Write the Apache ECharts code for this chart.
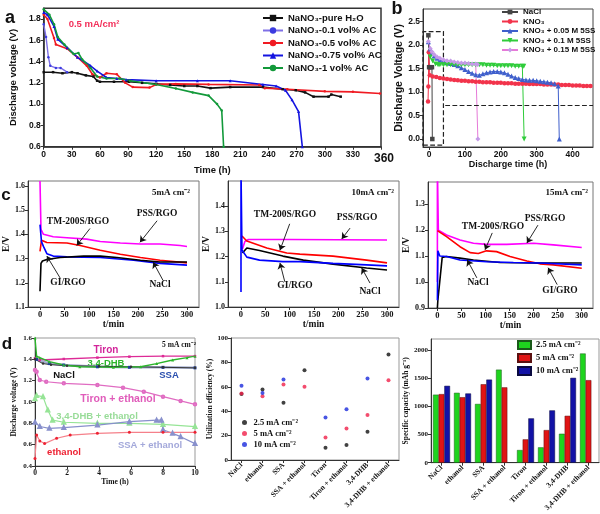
<!DOCTYPE html>
<html>
<head>
<meta charset="utf-8">
<script src="https://cdn.jsdelivr.net/npm/echarts@6/dist/echarts.min.js"></script>
<style>
html, body { margin: 0; padding: 0; background: #fff; }
#main { width: 600px; height: 514px; }
</style>
</head>
<body>
<div id="main"></div>
<script>
// ---- panel a : NaNO3 discharge (t in h, V) ----
var aNames = ['NaNO₃-pure H₂O', 'NaNO₃-0.1 vol% AC', 'NaNO₃-0.5 vol% AC', 'NaNO₃-0.75 vol% AC', 'NaNO₃-1 vol% AC'];
var aPureH2O = [[0,1.30],[10,1.30],[20,1.29],[30,1.30],[36,1.29],[45,1.27],[53,1.26],[57,1.22],[60,1.21],[75,1.21],[91,1.21],[105,1.20],[120,1.19],[135,1.18],[150,1.17],[164,1.17],[178,1.15],[199,1.16],[234,1.16],[255,1.14],[269,1.13],[279,1.11],[288,1.07],[304,1.07],[307,1.09],[317,1.07]];
var aAC01 = [[0,1.75],[2.5,1.63],[5,1.44],[7,1.36],[13,1.34],[18,1.34],[25,1.30]];
var aAC05 = [[0,1.84],[4,1.80],[11,1.62],[13,1.56],[25,1.52],[36,1.44],[46,1.36],[52,1.28],[60,1.25],[67,1.29],[78,1.28],[87,1.20],[95,1.16],[113,1.155],[120,1.185],[141,1.19],[176,1.185],[230,1.18],[236,1.15],[260,1.14],[300,1.12],[330,1.115],[359,1.10]];
var aAC075 = [[0,1.86],[4,1.84],[11,1.73],[15,1.61],[25,1.53],[36,1.44],[50,1.36],[57,1.31],[67,1.25],[78,1.24],[88,1.23],[120,1.22],[164,1.22],[199,1.22],[234,1.185],[248,1.17],[258,1.13],[265,1.04],[272,0.93],[276,0.6]];
var aAC1 = [[0,1.89],[6,1.84],[11,1.75],[15,1.63],[22,1.56],[32,1.47],[37,1.48],[41,1.42],[50,1.34],[57,1.26],[67,1.24],[81,1.24],[92,1.22],[120,1.185],[141,1.146],[159,1.11],[176,1.08],[185,1.0],[190,0.94],[192,0.6]];
var aTicksX = [0,30,60,90,120,150,180,210,240,270,300,330,360];
var aTicksY = [0.6,0.8,1.0,1.2,1.4,1.6,1.8];

// ---- panel b : KNO3 + 5SS ----
var bNames = ['NaCl', 'KNO₃', 'KNO₃ + 0.05 M 5SS', 'KNO₃ + 0.1 M 5SS', 'KNO₃ + 0.15 M 5SS'];
var bNaCl = [[-2,2.21],[0,1.53],[4,1.53],[8,1.53],[9,0]];
var bKNO3 = [[-3,0.8],[-2,1.12],[-1,1.85],[2,1.36],[10,1.33],[20,1.32],[30,1.30],[40,1.29],[50,1.28],[60,1.27],[70,1.26],[80,1.25],[90,1.24],[100,1.24],[110,1.23],[120,1.23],[130,1.22],[140,1.22],[150,1.21],[160,1.21],[170,1.21],[180,1.20],[190,1.20],[200,1.20],[210,1.19],[220,1.19],[230,1.19],[240,1.18],[250,1.18],[260,1.18],[270,1.18],[280,1.17],[290,1.17],[300,1.17],[310,1.17],[320,1.16],[330,1.16],[340,1.16],[350,1.16],[360,1.16],[370,1.15],[380,1.15],[390,1.15],[400,1.14],[410,1.14],[420,1.14],[430,1.13],[440,1.13],[450,1.13]];
var bSS005 = [[-2,2.07],[3,1.92],[8,1.83],[14,1.77],[22,1.72],[30,1.68],[40,1.65],[50,1.63],[60,1.61],[70,1.59],[80,1.56],[90,1.52],[100,1.48],[110,1.44],[120,1.40],[130,1.37],[140,1.36],[150,1.39],[160,1.41],[170,1.43],[180,1.44],[190,1.44],[200,1.43],[210,1.41],[220,1.38],[230,1.34],[240,1.31],[250,1.29],[260,1.27],[270,1.26],[280,1.25],[290,1.25],[300,1.24],[310,1.23],[320,1.22],[330,1.21],[340,1.20],[350,1.18],[360,1.13],[363,0]];
var bSS01 = [[3,1.75],[10,1.66],[18,1.60],[25,1.58],[30,1.58],[40,1.58],[50,1.58],[60,1.58],[70,1.58],[80,1.58],[90,1.58],[100,1.58],[110,1.58],[120,1.58],[130,1.58],[140,1.58],[150,1.58],[160,1.57],[170,1.57],[180,1.57],[190,1.56],[200,1.56],[210,1.56],[220,1.56],[230,1.56],[240,1.55],[250,1.55],[260,1.55],[264,1.55],[265,0]];
var bSS015 = [[-2,2.08],[3,1.93],[8,1.86],[14,1.80],[22,1.75],[30,1.72],[40,1.69],[50,1.67],[60,1.66],[70,1.64],[80,1.63],[90,1.62],[100,1.62],[110,1.61],[120,1.60],[130,1.60],[135,1.59],[136,0]];
var bTicksX = [0,100,200,300,400];
var bTicksY = [0,0.5,1.0,1.5,2.0,2.5];

// ---- panel c : E/V vs t/min at 5, 10, 15 mA cm-2 ----
var c1PSS = [[0,1.62],[2,1.42],[7,1.40],[27,1.39],[55,1.386],[95,1.38],[123,1.37],[164,1.364],[205,1.36],[245,1.36],[286,1.354],[300,1.35]];
var c1TM = [[0,1.33],[3,1.375],[14,1.366],[55,1.364],[82,1.354],[123,1.334],[164,1.318],[205,1.304],[245,1.293],[300,1.282]];
var c1GI = [[0,1.44],[3,1.37],[7,1.35],[14,1.32],[27,1.31],[55,1.307],[123,1.304],[191,1.293],[245,1.28],[300,1.273]];
var c1NaCl = [[0,1.165],[2,1.28],[5,1.29],[14,1.296],[41,1.304],[89,1.31],[123,1.31],[157,1.304],[205,1.293],[245,1.286],[300,1.286]];
var c2PSS = [[3,1.23],[8,1.26],[15,1.268],[100,1.268],[200,1.267],[300,1.266]];
var c2TM = [[2,1.282],[12,1.262],[53,1.234],[94,1.214],[121,1.21],[189,1.202],[258,1.186],[300,1.175]];
var c2GI = [[0,1.06],[0,1.55],[2,1.226],[12,1.198],[38,1.186],[86,1.18],[121,1.18],[189,1.173],[258,1.167],[300,1.163]];
var c2NaCl = [[3,1.214],[12,1.234],[38,1.224],[86,1.202],[128,1.186],[189,1.17],[258,1.155],[300,1.147]];
var c3PSS = [[0,1.0],[0,1.45],[2,1.2],[19,1.181],[47,1.162],[75,1.149],[102,1.145],[144,1.145],[200,1.149],[241,1.143],[300,1.133]];
var c3TM = [[0,1.198],[19,1.175],[47,1.136],[68,1.113],[85,1.11],[102,1.12],[123,1.117],[151,1.098],[186,1.081],[213,1.07],[241,1.066],[300,1.053]];
var c3GI = [[0,0.93],[1,1.12],[5,1.10],[19,1.098],[47,1.085],[102,1.078],[158,1.075],[213,1.073],[300,1.066]];
var c3NaCl = [[0,0.9],[1,0.93],[10,1.095],[19,1.098],[47,1.092],[75,1.085],[130,1.075],[200,1.073],[300,1.073]];
var cTicksX = [0,50,100,150,200,250,300];

// ---- panel d ----
var dTiron = [[0,1.41],[0.3,1.394],[1.8,1.403],[3.9,1.416],[5.9,1.425],[8,1.43],[10,1.43]];
var dDHB = [[0,1.6],[0.1,1.43],[0.3,1.416],[0.9,1.378],[1.8,1.347],[2.8,1.33],[4.9,1.325],[6.6,1.33],[7.6,1.36],[8.6,1.394],[9.5,1.416],[10,1.43]];
var dNaCl = [[0,1.40],[0.5,1.36],[1,1.35],[2,1.34],[4,1.335],[6,1.33],[8,1.325],[10,1.32]];
var dSSA = [[0.1,1.40],[0.9,1.36],[1.8,1.347],[3.9,1.33],[5.9,1.325],[8,1.325],[10,1.32]];
var dTironEth = [[0,1.30],[0.1,1.284],[0.3,1.206],[0.7,1.19],[1.8,1.175],[3.9,1.16],[5.5,1.134],[6.8,1.097],[8,1.05],[9.1,1.01],[10,0.978]];
var dDHBEth = [[0,1.03],[0.1,1.06],[0.5,1.05],[0.8,0.925],[1.1,0.83],[1.8,0.81],[3.9,0.80],[5.9,0.80],[8,0.79],[10,0.77]];
var dSSAEth = [[0,0.81],[0.3,0.77],[0.9,0.753],[1.8,0.76],[3.9,0.784],[5.9,0.816],[7.6,0.83],[7.9,0.83],[8,0.74],[8.6,0.706],[9.1,0.675],[10,0.61]];
var dEthanol = [[0,0.47],[0.1,0.69],[0.3,0.635],[0.6,0.61],[1.35,0.66],[2.2,0.69],[3.9,0.706],[5.9,0.716],[8,0.716],[10,0.716]];
var dTicksX = [0,2,4,6,8,10];
var dTicksY = [0.4,0.6,0.8,1.0,1.2,1.4,1.6];

var dCats = ['NaCl', 'ethanol', 'SSA', 'SSA + ethanol', 'Tiron', 'Tiron + ethanol', '3,4-DHB', '3,4-DHB + ethanol'];
var dCurrents = ['2.5 mA cm⁻²', '5 mA cm⁻²', '10 mA cm⁻²'];
var eff25 = [54, 57.8, 47, 73.6, 10, 12.3, 23.2, 86.4];
var eff5 = [54.5, 52.3, 61.9, 60, 18.5, 25.9, 36.8, 65.4];
var eff10 = [60.8, 55, 66, '-', 34.9, 41.7, 66.8, '-'];
var cap25 = [1210, 1243, 1045, 1655, 225, 273, 515, 1942];
var cap5 = [1220, 1165, 1395, 1340, 415, 580, 834, 1468];
var cap10 = [1367, 1231, 1478, '-', 788, 930, 1509, '-'];

var FS = 'Liberation Sans', FT = 'Liberation Serif';

function makeGrid(l, t, w, h, c, bw) {
    return { left: l, top: t, width: w, height: h, show: true, borderColor: c, borderWidth: bw || 1, backgroundColor: 'rgba(0,0,0,0)' };
}

function valueAxis(gi, min, max, ticks, dec, font, size, name, gap, nsize) {
    return {
        type: 'value', gridIndex: gi, min: min, max: max,
        name: name, nameLocation: 'middle', nameGap: gap,
        nameTextStyle: { fontFamily: font, fontWeight: 'bold', fontSize: nsize, color: '#111' },
        splitLine: { show: false },
        axisLine: { show: true, onZero: false, lineStyle: { color: '#333', width: 1 } },
        axisTick: { show: true, length: 3, customValues: ticks, lineStyle: { color: '#333', width: 1 } },
        axisLabel: {
            customValues: ticks, margin: 3, fontFamily: font, fontWeight: 'bold', fontSize: size, color: '#111',
            formatter: function (v) { return dec == null ? String(v) : v.toFixed(dec); }
        }
    };
}

function catAxis(gi) {
    return {
        type: 'category', gridIndex: gi, data: dCats, boundaryGap: true,
        axisLine: { show: true, lineStyle: { color: '#333' } },
        axisTick: { show: true, length: 3, alignWithLabel: true, lineStyle: { color: '#333' } },
        axisLabel: { rotate: 45, interval: 0, margin: 4, fontFamily: FT, fontWeight: 'bold', fontSize: 7.5, color: '#111' },
        splitLine: { show: false }
    };
}

function line(name, ai, data, color, width, symbol, size, extra) {
    var s = {
        type: 'line', name: name, xAxisIndex: ai, yAxisIndex: ai, data: data,
        showSymbol: symbol != 'none', symbol: symbol, symbolSize: size,
        lineStyle: { color: color, width: width }, itemStyle: { color: color },
        emphasis: { disabled: true }, animation: false
    };
    if (extra) {
        for (var k in extra) s[k] = extra[k];
    }
    return s;
}

function arrows(list) {
    return {
        silent: true, symbol: ['none', 'arrow'], symbolSize: 6, animation: false,
        label: { show: false }, lineStyle: { color: '#111', width: 0.9, type: 'solid' },
        data: list.map(function (p) { return [{ coord: p[0] }, { coord: p[1] }]; })
    };
}

function txt(t, x, y, font, color, align) {
    return { type: 'text', x: x, y: y, silent: true,
        style: { text: t, font: font, fill: color || '#111', align: align || 'center', verticalAlign: 'middle' } };
}

var xAxes = [
    (function () {
        var ax = valueAxis(0, 0, 360, aTicksX, null, FS, 8.5, 'Time (h)', 11, 9.5);
        ax.axisLabel.formatter = function (v) { return v == 360 ? '{big|360}' : String(v); };
        ax.axisLabel.rich = { big: { fontSize: 12, fontWeight: 'bold', fontFamily: FS, padding: [3, 0, 0, 6] } };
        return ax;
    })(),
    valueAxis(1, -17, 457, bTicksX, null, FS, 8.5, 'Discharge time (h)', 10, 9),
    valueAxis(2, -24.5, 324.5, cTicksX, null, FT, 8.5, 't/min', 9, 9.5),
    valueAxis(3, -26.7, 324.6, cTicksX, null, FT, 8.5, 't/min', 9, 9.5),
    valueAxis(4, -19.5, 323.4, cTicksX, null, FT, 8.5, 't/min', 9, 9.5),
    valueAxis(5, 0, 10, dTicksX, null, FT, 7.5, 'Time (h)', 11, 7.5),
    catAxis(6),
    catAxis(7)
];

var yAxes = [
    valueAxis(0, 0.6, 1.9, aTicksY, 1, FS, 8.5, 'Discharge voltage (V)', 16, 9.5),
    valueAxis(1, -0.17, 2.77, bTicksY, 1, FS, 8.5, 'Discharge Voltage (V)', 15, 10.5),
    valueAxis(2, 1.1, 1.62, [1.1,1.2,1.3,1.4,1.5,1.6], 1, FT, 8, 'E/V', 15, 9.5),
    valueAxis(3, 1.0, 1.5, [1.0,1.1,1.2,1.3,1.4], 1, FT, 8, 'E/V', 13, 9.5),
    valueAxis(4, 0.9, 1.385, [0.9,1.0,1.1,1.2,1.3], 1, FT, 8, 'E/V', 10, 9.5),
    valueAxis(5, 0.4, 1.6, dTicksY, 1, FT, 7, 'Discharge voltage (V)', 17, 7.5),
    valueAxis(6, 0, 100, [0,20,40,60,80,100], null, FT, 7, 'Utilization efficiency (%)', 16, 7.5),
    valueAxis(7, 0, 2200, [0,500,1000,1500,2000], null, FT, 7, 'Specific capacity (mAh g⁻¹)', 18, 7.5)
];
yAxes[0].axisLine.lineStyle.width = 1.5;
xAxes[0].axisLine.lineStyle.width = 1.5;

var series = [
    // a
    line(aNames[0], 0, aPureH2O, '#111111', 1.6, 'rect', 2.5),
    line(aNames[1], 0, aAC01, '#7f70e6', 1.4, 'circle', 2.5, { itemStyle: { color: '#3b3be0' } }),
    line(aNames[2], 0, aAC05, '#f01a22', 1.6, 'circle', 2.5),
    line(aNames[3], 0, aAC075, '#1414e0', 1.6, 'triangle', 3),
    line(aNames[4], 0, aAC1, '#12993a', 1.6, 'circle', 2.5),
    // b
    line(bNames[0], 1, bNaCl, '#444444', 1, 'rect', 4.5, {
        markArea: { silent: true, itemStyle: { color: 'rgba(0,0,0,0)', borderColor: '#222', borderWidth: 1.2, borderType: 'dashed' },
            data: [[{ coord: [-18.6, -0.13] }, { coord: [40, 2.29] }]] },
        markLine: { silent: true, symbol: 'none', label: { show: false }, lineStyle: { color: '#222', width: 1.2, type: 'dashed' },
            data: [[{ coord: [45, 0.73] }, { coord: [457, 0.73] }]] }
    }),
    line(bNames[1], 1, bKNO3, '#f2334b', 1, 'circle', 4.5),
    line(bNames[2], 1, bSS005, '#3f5fcc', 1, 'triangle', 5),
    line(bNames[3], 1, bSS01, '#2fcc3a', 1, 'triangle', 5, { symbolRotate: 180 }),
    line(bNames[4], 1, bSS015, '#e67ad8', 1, 'diamond', 5, { itemStyle: { color: '#c59ae8' } }),
    // c1
    line('c1PSS', 2, c1PSS, '#ff00ff', 1.6, 'none', 0),
    line('c1TM', 2, c1TM, '#ff0000', 1.6, 'none', 0),
    line('c1GI', 2, c1GI, '#0000ff', 1.6, 'none', 0),
    line('c1NaCl', 2, c1NaCl, '#000000', 1.6, 'none', 0, {
        markLine: arrows([[[102,1.424],[75,1.354]], [[239,1.456],[204,1.367]], [[41,1.22],[14,1.31]], [[251,1.21],[231,1.285]]])
    }),
    // c2
    line('c2PSS', 3, c2PSS, '#ff00ff', 1.6, 'none', 0),
    line('c2TM', 3, c2TM, '#ff0000', 1.6, 'none', 0),
    line('c2NaCl', 3, c2NaCl, '#000000', 1.6, 'none', 0, {
        markLine: arrows([[[100,1.33],[80,1.225]], [[224,1.313],[207,1.27]], [[90,1.10],[80,1.175]], [[265,1.095],[248,1.155]]])
    }),
    line('c2GI', 3, c2GI, '#0000ff', 1.6, 'none', 0),
    // c3
    line('c3PSS', 4, c3PSS, '#ff00ff', 1.6, 'none', 0),
    line('c3TM', 4, c3TM, '#ff0000', 1.6, 'none', 0),
    line('c3NaCl', 4, c3NaCl, '#000000', 1.6, 'none', 0),
    line('c3GI', 4, c3GI, '#0000ff', 1.6, 'none', 0, {
        markLine: arrows([[[114,1.189],[99,1.124]], [[209,1.219],[186,1.15]], [[82,1.016],[62,1.085]], [[249,0.99],[230,1.055]]])
    }),
    // d1
    line('dTiron', 5, dTiron, '#dd2a96', 1.4, 'rect', 2.5),
    line('dSSA', 5, dSSA, '#a4aed0', 2.5, 'rect', 3, { itemStyle: { color: '#1f3f9f' } }),
    line('dNaCl', 5, dNaCl, '#333333', 1, 'circle', 2.5),
    line('dDHB', 5, dDHB, '#2cb52c', 1.4, 'triangle', 3),
    line('dTironEth', 5, dTironEth, '#e06cc2', 1.2, 'emptyCircle', 2.5),
    line('dDHBEth', 5, dDHBEth, '#96e496', 1.2, 'emptyTriangle', 3),
    line('dSSAEth', 5, dSSAEth, '#8890cc', 1.2, 'emptyTriangle', 3),
    line('dEthanol', 5, dEthanol, '#f5808a', 1.2, 'circle', 3, { itemStyle: { color: '#ee2233' } }),
    // d2
    { type: 'scatter', name: 'u25', xAxisIndex: 6, yAxisIndex: 6, data: eff25, symbolSize: 4, itemStyle: { color: '#111' }, animation: false },
    { type: 'scatter', name: 'u5', xAxisIndex: 6, yAxisIndex: 6, data: eff5, symbolSize: 4, itemStyle: { color: '#f0204a' }, animation: false },
    { type: 'scatter', name: 'u10', xAxisIndex: 6, yAxisIndex: 6, data: eff10, symbolSize: 4, itemStyle: { color: '#1a2adc' }, animation: false },
    // d3
    { type: 'bar', name: 'k25', xAxisIndex: 7, yAxisIndex: 7, data: cap25, barGap: '0%', barCategoryGap: '19%', itemStyle: { color: '#1ed41e', borderColor: '#1a5a1a', borderWidth: 0.5 }, animation: false },
    { type: 'bar', name: 'k5', xAxisIndex: 7, yAxisIndex: 7, data: cap5, itemStyle: { color: '#e01414', borderColor: '#5a1010', borderWidth: 0.5 }, animation: false },
    { type: 'bar', name: 'k10', xAxisIndex: 7, yAxisIndex: 7, data: cap10, itemStyle: { color: '#1212a6', borderColor: '#0a0a40', borderWidth: 0.5 }, animation: false }
];

var legendMap = { u25: dCurrents[0], u5: dCurrents[1], u10: dCurrents[2], k25: dCurrents[0], k5: dCurrents[1], k10: dCurrents[2] };

var legends = [
    { data: aNames, left: 262, top: 13, orient: 'vertical', itemGap: 2.5, itemWidth: 20, itemHeight: 8, padding: 0,
      selectedMode: false, textStyle: { fontFamily: FS, fontWeight: 'bold', fontSize: 9.5, color: '#111' } },
    { data: bNames, left: 501, top: 8, orient: 'vertical', itemGap: 1.5, itemWidth: 16, itemHeight: 6, padding: 0,
      selectedMode: false, textStyle: { fontFamily: FS, fontWeight: 'bold', fontSize: 8, color: '#111' } },
    { data: ['u25', 'u5', 'u10'], left: 242, top: 418, orient: 'vertical', itemGap: 2, itemWidth: 8, itemHeight: 5, padding: 0,
      selectedMode: false, formatter: function (n) { return legendMap[n]; },
      textStyle: { fontFamily: FT, fontWeight: 'bold', fontSize: 8.5, color: '#111' } },
    { data: ['k25', 'k5', 'k10'], left: 517, top: 340, orient: 'vertical', itemGap: 3, itemWidth: 13, itemHeight: 8, icon: 'rect', padding: 0,
      selectedMode: false, formatter: function (n) { return legendMap[n]; },
      textStyle: { fontFamily: FT, fontWeight: 'bold', fontSize: 8.5, color: '#111' } }
];

var LB = 'bold 18px "' + FS + '"';
var SB = function (n) { return 'bold ' + n + 'px "' + FS + '"'; };
var TB = function (n) { return 'bold ' + n + 'px "' + FT + '"'; };

var graphics = [
    txt('a', 10, 18, LB), txt('b', 397, 9, LB), txt('c', 6, 195, 'bold 17px "' + FS + '"'), txt('d', 7, 344, 'bold 17px "' + FS + '"'),
    txt('0.5 mA/cm²', 94, 24, SB(9.5), '#f2305a'),
    // c labels
    txt('5mA cm⁻²', 190, 193, TB(9), '#111', 'right'),
    txt('TM-200S/RGO', 78, 222, TB(9.5)), txt('PSS/RGO', 157, 214, TB(9.5)), txt('GI/RGO', 68, 283, TB(9.5)), txt('NaCl', 160, 285, TB(9.5)),
    txt('10mA cm⁻²', 394, 193, TB(9), '#111', 'right'),
    txt('TM-200S/RGO', 285, 215, TB(9.5)), txt('PSS/RGO', 357, 218, TB(9.5)), txt('GI/RGO', 295, 286, TB(9.5)), txt('NaCl', 370, 292, TB(9.5)),
    txt('15mA cm⁻²', 588, 193, TB(9), '#111', 'right'),
    txt('TM-200S/RGO', 493, 227, TB(9.5)), txt('PSS/RGO', 545, 219, TB(9.5)), txt('NaCl', 478, 283, TB(9.5)), txt('GI/GRO', 560, 291, TB(9.5)),
    // d1 labels
    txt('5 mA cm⁻²', 196, 345, TB(7.5), '#111', 'right'),
    txt('Tiron', 106, 350, SB(10), '#d2249a'),
    txt('3,4-DHB', 106, 363, SB(9.5), '#2cb52c'),
    txt('NaCl', 64, 375, SB(9.5), '#111'),
    txt('SSA', 169, 375, SB(9.5), '#2a4fae'),
    txt('Tiron + ethanol', 118, 399, SB(10.5), '#e05cba'),
    txt('3,4-DHB + ethanol', 97, 416, SB(9.5), '#98dc98'),
    txt('SSA + ethanol', 150, 445, SB(9.5), '#a3a8da'),
    txt('ethanol', 64, 452, SB(9.5), '#ee2233')
];

var chart = echarts.init(document.getElementById('main'));
chart.setOption({
    backgroundColor: '#fff',
    animation: false,
    grid: [
        makeGrid(33, 8.3, 348, 138.4, '#333', 1.5),
        makeGrid(423, 9, 170, 138, '#444'),
        makeGrid(28, 181, 171, 126, '#777'),
        makeGrid(228, 181, 171, 126, '#777'),
        makeGrid(428, 182, 165, 126, '#777'),
        makeGrid(35, 338, 160, 128, '#999'),
        makeGrid(231, 338, 168, 122, '#999'),
        makeGrid(431, 339, 168, 124, '#999')
    ],
    xAxis: xAxes,
    yAxis: yAxes,
    legend: legends,
    series: series,
    graphic: graphics
});
</script>
</body>
</html>
